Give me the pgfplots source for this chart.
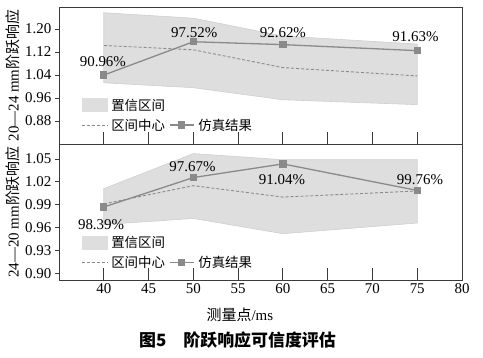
\documentclass[border=0pt]{standalone}
\usepackage{pgfplots}
\pgfplotsset{compat=1.18}
\usepackage{fontspec}
\setmainfont{Liberation Serif}
\newfontfamily\cjk{Noto Sans CJK SC}
\definecolor{ln}{HTML}{8A8A8A}
\definecolor{band}{HTML}{DEDEDE}
\definecolor{bandedge}{HTML}{CFCFCF}
\definecolor{ax}{HTML}{3A3A3A}

\pgfplotsset{
 common/.style={
  scale only axis, width=403bp, xmin=35, xmax=80, xtick={40,45,...,80},
  xtick pos=bottom, ytick pos=left, xtick align=inside, ytick align=outside,
  axis line style={ax, line width=0.9pt},
  tick style={ax, line width=0.8pt},
  xtick style={/pgfplots/major tick length=12bp},
  ytick style={/pgfplots/major tick length=4bp},
  tick label style={font=\fontsize{15}{17}\selectfont},
  /pgf/number format/assume math mode=true,
  yticklabel style={/pgf/number format/.cd, fixed, fixed zerofill, precision=2},
  legend columns=2,
  legend cell align=left,
  legend style={draw=none, fill=none, font=\cjk\fontsize{13.5}{15}\selectfont,
     column sep=2bp, row sep=3bp, inner sep=0pt},
  label style={font=\fontsize{15}{17}\selectfont},
  ylabel style={at={(axis description cs:-0.114,0.5)}, anchor=center},
 },
 bandst/.style={fill=band, draw=bandedge, line width=0.6pt,
   legend image code/.code={\fill[band] (0bp,-6bp) rectangle (25bp,7bp);}},
 centst/.style={ln, densely dashed, line width=0.9pt,
   legend image code/.code={\draw[ln, densely dashed, line width=0.9pt] (0bp,0bp) -- (25bp,0bp);}},
 simst/.style={ln, line width=1.3pt, mark=square*, mark size=3bp, mark options={solid, fill=ln},
   legend image code/.code={\draw[mark repeat=2,mark phase=2,#1] plot coordinates {(0bp,0bp) (12bp,0bp) (24bp,0bp)};}},
}

\begin{document}
\begin{tikzpicture}
\useasboundingbox (0bp,0bp) rectangle (483bp,358bp);

% upper axis
\begin{axis}[common, at={(59bp,214bp)}, anchor=south west, height=137bp,
  ymin=0.80, ymax=1.277, ytick={0.88,0.96,1.04,1.12,1.20},
  xticklabel=\empty,
  ylabel={20—24 mm{\cjk 阶跃响应}},
  legend style={at={(0.055,0.345)}, anchor=north west}]
\addplot[bandst] coordinates {(40,1.257) (50,1.238) (60,1.176) (75,1.148) (75,0.937) (60,0.954) (50,0.996) (40,1.013)} -- cycle;
\addlegendentry{置信区间}
\addlegendimage{empty legend}\addlegendentry{}
\addplot[centst] coordinates {(40,1.143) (50,1.128) (60,1.066) (75,1.037)};
\addlegendentry{区间中心}
\addplot[simst] coordinates {(40,1.040) (50,1.156) (60,1.146) (75,1.125)};
\addlegendentry{仿真结果}
\node[font=\fontsize{15}{17}\selectfont] at (axis cs:39.9,1.086) {90.96\%};
\node[font=\fontsize{15}{17}\selectfont] at (axis cs:50.1,1.187) {97.52\%};
\node[font=\fontsize{15}{17}\selectfont] at (axis cs:60,1.187) {92.62\%};
\node[font=\fontsize{15}{17}\selectfont] at (axis cs:74.8,1.173) {91.63\%};
\end{axis}

% lower axis
\begin{axis}[common, at={(59bp,78bp)}, anchor=south west, height=136bp,
  ymin=0.8913, ymax=1.0696, ytick={0.90,0.93,0.96,0.99,1.02,1.05},
  ylabel={24—20 mm{\cjk 阶跃响应}},
  xlabel={{\cjk 测量点}/ms},
  xlabel style={at={(axis description cs:0.449,-0.257)}, anchor=center},
  legend style={at={(0.055,0.335)}, anchor=north west}]
\addplot[bandst] coordinates {(40,1.011) (50,1.057) (60,1.049) (75,1.049) (75,0.966) (60,0.952) (50,0.972) (40,0.964)} -- cycle;
\addlegendentry{置信区间}
\addlegendimage{empty legend}\addlegendentry{}
\addplot[centst] coordinates {(40,0.991) (50,1.015) (60,1.000) (75,1.008)};
\addlegendentry{区间中心}
\addplot[simst] coordinates {(40,0.987) (50,1.0256) (60,1.0435) (75,1.0087)};
\addlegendentry{仿真结果}
\node[font=\fontsize{15}{17}\selectfont] at (axis cs:39.7,0.964) {98.39\%};
\node[font=\fontsize{15}{17}\selectfont] at (axis cs:49.9,1.0396) {97.67\%};
\node[font=\fontsize{15}{17}\selectfont] at (axis cs:59.9,1.0226) {91.04\%};
\node[font=\fontsize{15}{17}\selectfont] at (axis cs:75.3,1.0226) {99.76\%};
\end{axis}

\node[font=\cjk\bfseries\fontsize{17}{20}\selectfont] at (237.5bp,18bp) {图5\quad 阶跃响应可信度评估};
\end{tikzpicture}
\end{document}
